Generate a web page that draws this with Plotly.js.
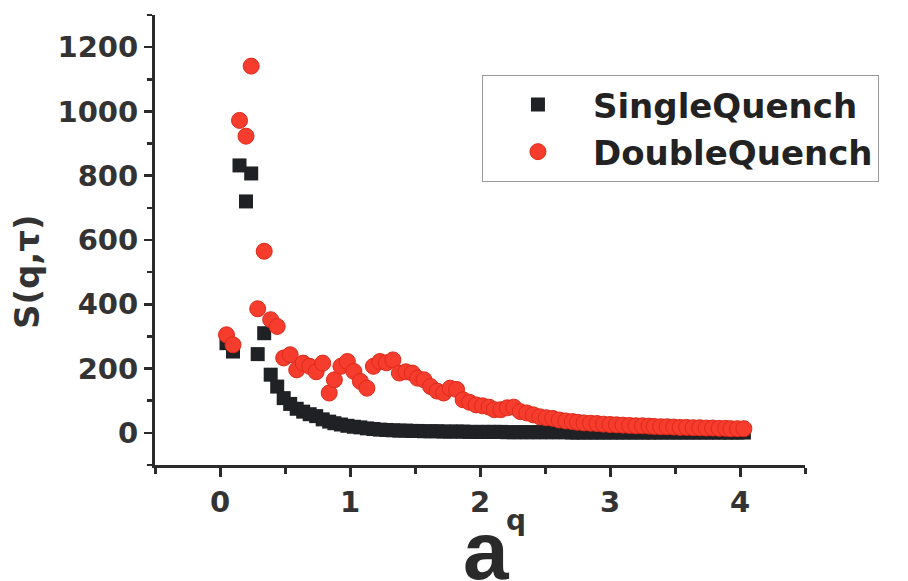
<!DOCTYPE html>
<html>
<head>
<meta charset="utf-8">
<script src="https://cdn.plot.ly/plotly-3.0.1.min.js"></script>
<style>html,body{margin:0;padding:0;background:#fff;}#chart{width:908px;height:581px;}</style>
</head>
<body>
<div id="chart"></div>
<script>
// a*q values (x axis)
const qa = [0.05,0.10,0.15,0.20,0.24,0.29,0.34,0.39,0.44,0.49,
  0.54,0.59,0.64,0.69,0.74,0.79,0.84,0.88,0.93,0.98,
  1.03,1.08,1.13,1.18,1.23,1.28,1.33,1.38,1.43,1.48,
  1.52,1.57,1.62,1.67,1.72,1.77,1.82,1.87,1.92,1.97,
  2.02,2.07,2.11,2.16,2.21,2.26,2.31,2.36,2.41,2.46,
  2.51,2.56,2.61,2.66,2.71,2.75,2.80,2.85,2.90,2.95,
  3.00,3.05,3.10,3.15,3.20,3.25,3.30,3.34,3.39,3.44,
  3.49,3.54,3.59,3.64,3.69,3.74,3.79,3.84,3.89,3.93,
  3.98,4.03];
// S(q,tau) single quench
const singleQuench = [279,253,832,720,807,245,310,181,144,108,
  90,75,66,58,52,42,35,30,26,22,
  19,17,14,12,10,9,8,7,7,6,
  6,5,5,5,4,4,4,4,3,3,
  3,3,3,3,2,2,2,2,2,2,
  2,2,2,2,1,1,1,1,1,1,
  1,1,1,1,1,1,1,1,1,1,
  1,1,1,1,1,1,1,1,1,1,
  1,1];
// S(q,tau) double quench
const doubleQuench = [305,274,972,923,1141,386,565,352,331,233,
  243,196,217,207,190,217,124,165,207,222,
  191,160,139,207,222,218,227,186,190,186,
  170,165,144,130,124,139,135,103,95,87,
  84,80,72,72,78,80,66,62,56,50,
  47,45,40,37,35,33,31,30,29,27,
  26,25,24,23,22,22,21,20,19,19,
  18,17,17,16,16,15,15,14,14,13,
  13,13];
const seriesNames = ['SingleQuench','DoubleQuench'];
const yTicks = [0,200,400,600,800,1000,1200];
const xTicks = [0,1,2,3,4];

const FONT = '"DejaVu Sans", sans-serif';
const FONT2 = '"Liberation Sans", Arial, sans-serif';
const traces = [
  {x: qa, y: singleQuench, name: seriesNames[0], type: 'scatter', mode: 'markers',
   marker: {symbol: 'square', size: 14, color: '#1f2124', line: {width: 0}}},
  {x: qa, y: doubleQuench, name: seriesNames[1], type: 'scatter', mode: 'markers',
   marker: {symbol: 'circle', size: 16, color: '#f63c2c', line: {width: 1, color: '#dd2a1c'}}}
];
const layout = {
  width: 908, height: 581,
  margin: {l: 155, r: 103, t: 15, b: 116},
  paper_bgcolor: '#fff', plot_bgcolor: '#fff',
  font: {family: FONT, color: '#2a2a2a'},
  showlegend: true,
  legend: {x: 0.503, y: 0.867, xanchor: 'left', yanchor: 'top',
    bgcolor: '#fff', bordercolor: '#9a9a9a', borderwidth: 1,
    font: {family: FONT, size: 34, weight: 'bold', color: '#222'},
    itemwidth: 100, tracegroupgap: 0},
  xaxis: {range: [-0.5, 4.5], tickvals: xTicks, ticktext: xTicks.map(String),
    showgrid: false, zeroline: false, showline: true, linecolor: '#2b2b2b', linewidth: 3,
    ticks: 'outside', ticklen: 9, tickwidth: 3, tickcolor: '#2b2b2b',
    minor: {dtick: 0.5, tick0: 0.5, ticks: 'outside', ticklen: 6, tickwidth: 3, tickcolor: '#2b2b2b'},
    tickfont: {family: FONT, size: 29, weight: 'bold', color: '#333'},
    title: {text: ''}},
  yaxis: {range: [-100, 1300], tickvals: yTicks, ticktext: yTicks.map(String),
    showgrid: false, zeroline: false, showline: true, linecolor: '#2b2b2b', linewidth: 3,
    ticks: 'outside', ticklen: 8, tickwidth: 2.5, tickcolor: '#2b2b2b',
    minor: {dtick: 100, tick0: 100, ticks: 'outside', ticklen: 5, tickwidth: 2.5, tickcolor: '#2b2b2b'},
    tickfont: {family: FONT, size: 29, weight: 'bold', color: '#333'},
    title: {text: ''}},
  annotations: [
    {text: 'S(q,τ)', xref: 'paper', yref: 'paper', x: (27 - 155) / 650, y: (465 - 272) / 450,
     xanchor: 'center', yanchor: 'middle', textangle: -90, showarrow: false,
     font: {family: FONT, size: 34, weight: 'bold', color: '#333'}},
    {text: 'q', xref: 'paper', yref: 'paper', x: (516 - 155) / 650, y: (465 - 520) / 450,
     xanchor: 'center', yanchor: 'middle', showarrow: false,
     font: {family: FONT, size: 28, weight: 'bold', color: '#333'}},
    {text: 'a', xref: 'paper', yref: 'paper', x: (486 - 155) / 650, y: (465 - 550) / 450,
     xanchor: 'center', yanchor: 'middle', showarrow: false,
     font: {family: FONT2, size: 82, weight: 'bold', color: '#2a2a2a'}}]
};
Plotly.newPlot('chart', traces, layout, {displayModeBar: false, staticPlot: true});
</script>
</body>
</html>
